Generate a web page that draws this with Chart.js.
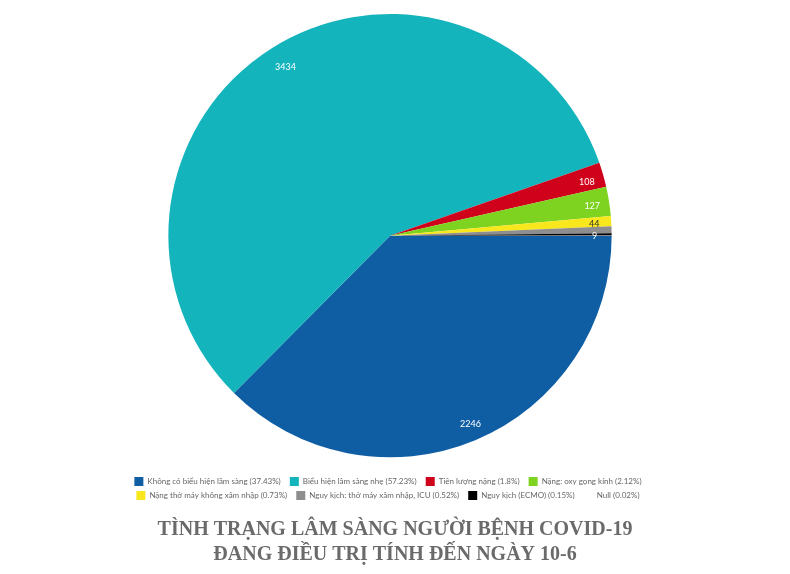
<!DOCTYPE html>
<html>
<head>
<meta charset="utf-8">
<script src="https://cdn.jsdelivr.net/npm/chart.js@4"></script>
<style>
html,body{margin:0;padding:0;background:#fff;}
#wrap{width:790px;height:574px;position:relative;}
</style>
</head>
<body>
<div id="wrap"><canvas id="c"></canvas></div>
<script>
const categories = [
  "Không có biểu hiện lầm sàng",
  "Biểu hiện lâm sàng nhẹ",
  "Tiên lượng nặng",
  "Nặng: oxy gọng kính",
  "Nặng thở máy không xâm nhập",
  "Nguy kịch: thở máy xâm nhập, ICU",
  "Nguy kịch (ECMO)",
  "Null"
];
const values = [2246, 3434, 108, 127, 44, 31, 9, 1];
const percents = ["37.43%", "57.23%", "1.8%", "2.12%", "0.73%", "0.52%", "0.15%", "0.02%"];
const colors = ["#0f5ea4", "#13b4bc", "#d0021b", "#7ed321", "#f8e71c", "#8e8e8e", "#000000", "#ffffff"];
const showLabel = [true, true, true, true, true, false, true, false];
const labelColors = ["#ffffff", "#ffffff", "#ffffff", "#ffffff", "#333333", "#ffffff", "#ffffff", "#ffffff"];
const titleLines = ["TÌNH TRẠNG LÂM SÀNG NGƯỜI BỆNH COVID-19", "ĐANG ĐIỀU TRỊ TÍNH ĐẾN NGÀY 10-6"];

const sliceLabels = {
  id: 'sliceLabels',
  afterDatasetsDraw(chart) {
    const ctx = chart.ctx;
    const meta = chart.getDatasetMeta(0);
    ctx.save();
    ctx.font = '9px Lato, sans-serif';
    ctx.textAlign = 'center';
    ctx.textBaseline = 'middle';
    meta.data.forEach((arc, i) => {
      if (!showLabel[i]) return;
      const p = arc.getProps(['x','y','startAngle','endAngle','outerRadius'], true);
      const mid = (p.startAngle + p.endAngle) / 2;
      const r = p.outerRadius - 20;
      ctx.fillStyle = labelColors[i];
      ctx.fillText(String(values[i]), p.x + Math.cos(mid) * r + 3, p.y + Math.sin(mid) * r + 2);
    });
    ctx.restore();
  }
};

new Chart(document.getElementById('c'), {
  type: 'pie',
  data: {
    labels: categories,
    datasets: [{
      data: values,
      backgroundColor: colors,
      borderWidth: 0
    }]
  },
  options: {
    responsive: true,
    maintainAspectRatio: false,
    animation: false,
    rotation: 90,
    layout: { padding: { top: 14, left: 113, right: 123, bottom: 0 } },
    plugins: {
      tooltip: { enabled: false },
      legend: {
        position: 'bottom',
        title: {
          display: true,
          text: '',
          font: { size: 1 },
          padding: { top: 0, bottom: 13.5 }
        },
        labels: {
          boxWidth: 9,
          boxHeight: 9,
          padding: 5,
          color: '#555',
          font: { family: 'Lato, sans-serif', size: 8.0 },
          generateLabels(chart) {
            return categories.map((c, i) => ({
              text: c + ' (' + percents[i] + ')  ',
              fillStyle: colors[i],
              strokeStyle: colors[i],
              lineWidth: 0,
              hidden: false,
              index: i
            }));
          }
        }
      },
      title: {
        display: true,
        position: 'bottom',
        text: titleLines.map(t => '  ' + t),
        color: '#6a6a6a',
        font: { family: '"Liberation Serif", "Times New Roman", serif', size: 20, weight: 'bold', lineHeight: 1.25 },
        padding: { top: 7, bottom: 7 }
      }
    }
  },
  plugins: [sliceLabels]
});
</script>
</body>
</html>
